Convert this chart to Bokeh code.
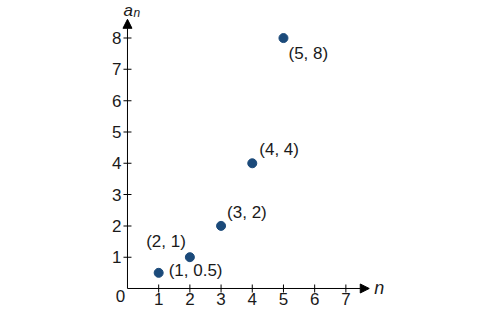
from bokeh.plotting import figure
from bokeh.models import Arrow, NormalHead, Range1d, ColumnDataSource
from bokeh.core.properties import value
from bokeh.embed import file_html
from bokeh.resources import INLINE

# data
n_vals = [1, 2, 3, 4, 5]
a_vals = [0.5, 1, 2, 4, 8]
point_labels = ["(1, 0.5)", "(2, 1)", "(3, 2)", "(4, 4)", "(5, 8)"]
x_ticks = [1, 2, 3, 4, 5, 6, 7]
y_ticks = [1, 2, 3, 4, 5, 6, 7, 8]

FONT = value("Liberation Sans")
COLOR = "#1b4a7a"
TXT = "#1a1a1a"

p = figure(width=487, height=315, output_backend="svg", toolbar_location=None,
           x_range=Range1d(-4.07, 11.54), y_range=Range1d(-0.863, 9.20),
           min_border=0)
p.axis.visible = False
p.grid.visible = False
p.outline_line_color = None
p.background_fill_color = "white"

# axes with arrows
p.add_layout(Arrow(end=NormalHead(size=9, fill_color="black", line_color="black"),
                   x_start=0, y_start=0, x_end=7.75, y_end=0, line_color="black", line_width=1))
p.add_layout(Arrow(end=NormalHead(size=9, fill_color="black", line_color="black"),
                   x_start=0, y_start=0, x_end=0, y_end=8.6, line_color="black", line_width=1))

# ticks
p.rect(x=x_ticks, y=[0]*len(x_ticks), width=1, height=8, width_units="screen",
       height_units="screen", fill_color="black", line_color=None)
p.rect(x=[0]*len(y_ticks), y=y_ticks, width=8, height=1, width_units="screen",
       height_units="screen", fill_color="black", line_color=None)

# tick labels
p.text(x=x_ticks, y=[0]*len(x_ticks), text=[str(t) for t in x_ticks], y_offset=5,
       text_align="center", text_baseline="top", text_font=FONT, text_font_size="17px",
       text_color=TXT)
p.text(x=[0]*len(y_ticks), y=y_ticks, text=[str(t) for t in y_ticks], x_offset=-6,
       text_align="right", text_baseline="middle", text_font=FONT, text_font_size="17px",
       text_color=TXT)
p.text(x=[0], y=[0], text=["0"], x_offset=-7, y_offset=2, text_align="center",
       text_baseline="top", text_font=FONT, text_font_size="17px", text_color=TXT)

# axis names
p.text(x=[7.75], y=[0], text=["n"], x_offset=5, y_offset=0, text_align="left",
       text_baseline="middle", text_font=FONT, text_font_size="18px",
       text_font_style="italic", text_color=TXT)
p.text(x=[0], y=[8.6], text=["a"], x_offset=-4, y_offset=-9, text_align="left",
       text_baseline="alphabetic", text_font=FONT, text_font_size="17px",
       text_font_style="italic", text_color=TXT)
p.text(x=[0], y=[8.6], text=["n"], x_offset=6, y_offset=-6, text_align="left",
       text_baseline="alphabetic", text_font=FONT, text_font_size="12px",
       text_font_style="italic", text_color=TXT)

# points
src = ColumnDataSource(dict(x=n_vals, y=a_vals, lab=point_labels,
                            dx=[10, -4, 6, 7, 5], dy=[-2, -16, -13, -14, 15],
                            align=["left", "right", "left", "left", "left"]))
p.scatter("x", "y", source=src, size=9, fill_color=COLOR, line_color=COLOR)
p.text("x", "y", text="lab", source=src, x_offset="dx", y_offset="dy",
       text_align="align", text_baseline="middle", text_font=FONT,
       text_font_size="17px", text_color=TXT)

open("out.html", "w").write(file_html(p, INLINE))
